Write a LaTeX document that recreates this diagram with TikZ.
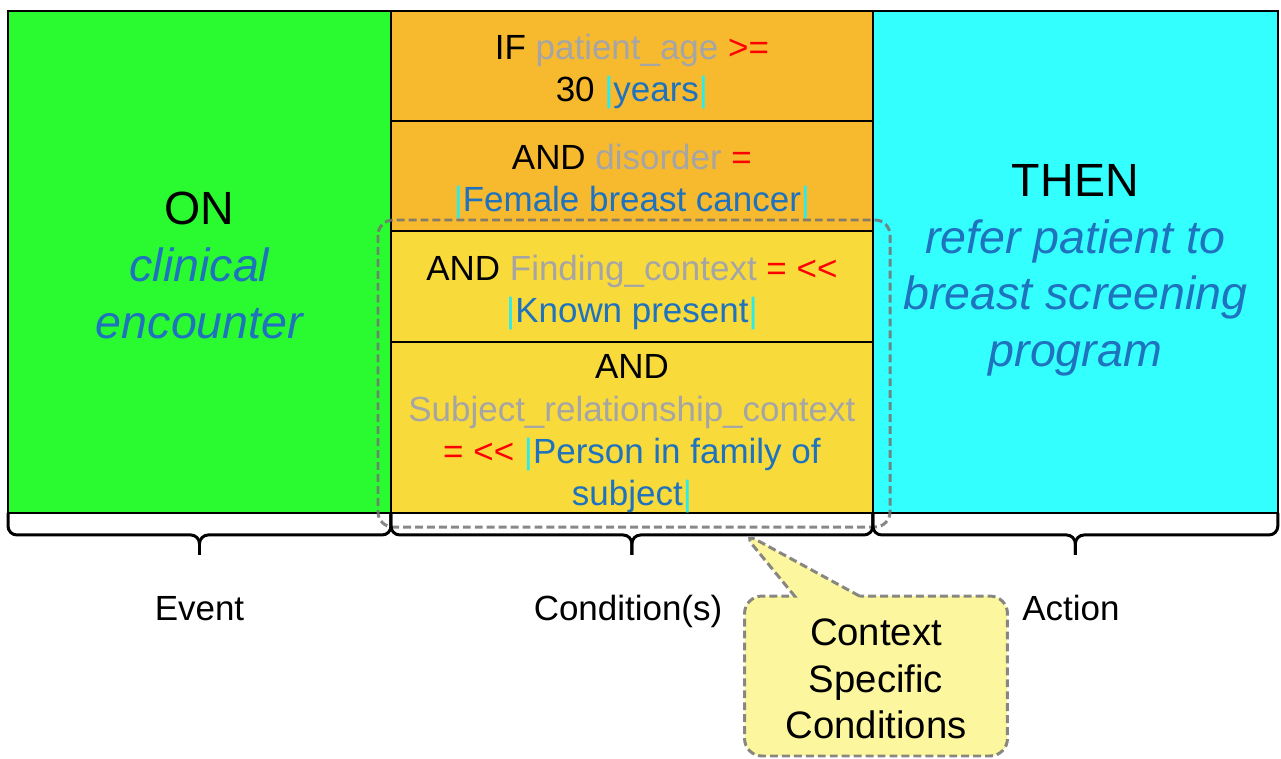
\documentclass[tikz,border=0pt]{standalone}
\usepackage{fontspec}
\setmainfont{Liberation Sans}
\usetikzlibrary{positioning, shapes.callouts, calc}

\definecolor{evtgreen}{RGB}{42,250,48}
\definecolor{actcyan}{RGB}{51,255,255}
\definecolor{condorange}{RGB}{247,186,46}
\definecolor{condyellow}{RGB}{249,218,59}
\definecolor{termblue}{RGB}{30,114,190}
\definecolor{attrgray}{RGB}{165,165,165}
\definecolor{opred}{RGB}{255,0,0}
\definecolor{barcyan}{RGB}{45,235,235}
\definecolor{notefill}{RGB}{252,247,158}
\definecolor{dashgray}{RGB}{115,115,115}

\newcommand{\attr}[1]{\textcolor{attrgray}{#1}}
\newcommand{\oper}[1]{\textcolor{opred}{#1}}
\newcommand{\term}[1]{\textcolor{termblue}{#1}}
\newcommand{\action}[1]{\textcolor{termblue}{\itshape #1}}
\newcommand{\cbar}{\textcolor{barcyan}{|}}
\newcommand{\lnup}{\rule{0pt}{1.05em}}

\begin{document}
\begin{tikzpicture}[x=0.02cm, y=-0.02cm,
    linebox/.style={execute at end node={\rule[-0.212em]{0pt}{0.212em}}},
    cell/.style={draw, line width=1.1pt, inner sep=0pt, outer sep=0pt, align=center, linebox},
    condtext/.style={font=\fontsize{19.9}{24}\selectfont},
    bigtext/.style={font=\fontsize{26.5}{32.4}\selectfont},
    brc/.style={line width=1.7pt, rounded corners=5pt},
    ctxline/.style={draw=dashgray, draw opacity=0.85, dash pattern=on 4.5pt off 2.3pt, line width=1.7pt}]
    \useasboundingbox (0,0) rectangle (1281,758);
    % event / conditions / action
    \node[cell, fill=evtgreen, minimum width=7.66cm, minimum height=10.04cm, bigtext] (event) at (199.5,262)
        {\lnup ON\\\action{clinical}\\\action{encounter}};
    \node[cell, fill=condorange, minimum width=9.64cm, minimum height=2.2cm, condtext, anchor=north west] (age) at (event.north east)
        {\lnup IF \attr{patient\_age} \oper{>=}\\30 \cbar\term{years}\cbar};
    \node[cell, fill=condorange, minimum width=9.64cm, minimum height=2.2cm, condtext, below=0pt of age] (disorder)
        {\lnup AND \attr{disorder} \oper{=}\\\cbar\term{Female breast cancer}\cbar};
    \node[cell, fill=condyellow, minimum width=9.64cm, minimum height=2.22cm, condtext, below=0pt of disorder] (finding)
        {\lnup AND \attr{Finding\_context} \oper{= <{}<}\\\cbar\term{Known present}\cbar};
    \node[cell, fill=condyellow, minimum width=9.64cm, minimum height=3.42cm, condtext, below=0pt of finding] (subject)
        {\lnup AND\\\attr{Subject\_relationship\_context}\\\oper{= <{}<} \cbar\term{Person in family of}\\\term{subject}\cbar};
    \node[cell, fill=actcyan, minimum width=8.1cm, minimum height=10.04cm, bigtext, anchor=north west] (action) at (age.north east)
        {\lnup THEN\\\action{refer patient to}\\\action{breast screening}\\\action{program}};

    % context specific group
    \draw[ctxline, rounded corners=0.3cm] (378,220) rectangle (890,527);

    % braces
    \foreach \part in {event, subject, action} {
        \draw[brc] (\part.south west) -- ++(0,22) -- ($(\part.south)+(0,22)$) -- ++(0,20);
        \draw[brc] ($(\part.south)+(0,42)$) -- ++(0,-20) -- ($(\part.south east)+(0,22)$) -- (\part.south east);
    }
    \node[condtext, anchor=base] (evtlabel) at (199.5,620) {Event};
    \node[condtext, anchor=base] (condlabel) at (628,620) {Condition(s)};
    \node[condtext, anchor=base] (actlabel) at (1071,620) {Action};

    \node[rectangle callout, callout absolute pointer={(742,532)}, callout pointer width=1.3cm,
        fill=notefill, ctxline, rounded corners=0.35cm, minimum width=5.26cm, minimum height=3.2cm,
        align=center, linebox, font=\fontsize{21.8}{26.7}\selectfont] (ctxnote) at (876,676)
        {\lnup Context\\Specific\\Conditions};
\end{tikzpicture}
\end{document}
